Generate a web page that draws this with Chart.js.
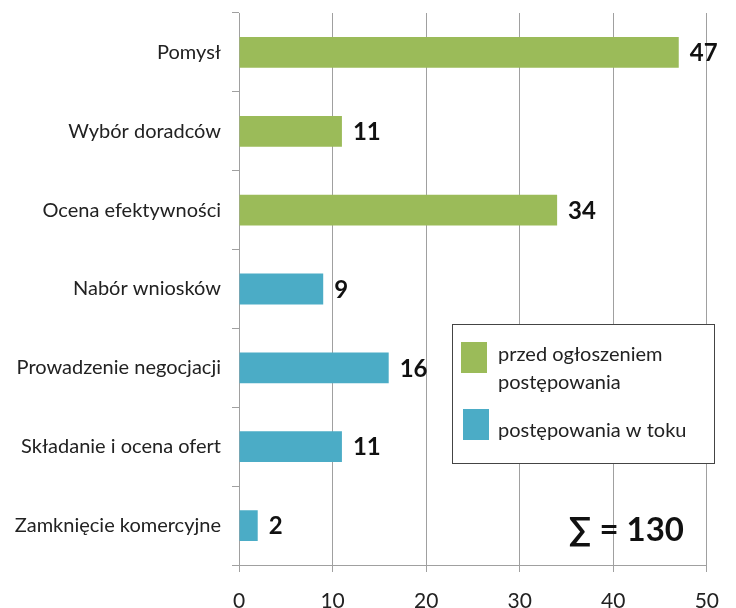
<!DOCTYPE html>
<html lang="pl">
<head>
    <meta charset="UTF-8">
    <title>Etapy postępowań</title>
    <style>
        body {
            margin: 0;
            padding: 0;
            background-color: #fff;
        }
        .wrap {
            width: 736px;
            height: 608px;
        }
    </style>
    <script src="https://cdn.jsdelivr.net/npm/chart.js"></script>
</head>
<body>
    <div class="wrap">
        <canvas id="chart" width="736" height="608"></canvas>
    </div>
    <script>
        const categories = ['Pomysł', 'Wybór doradców', 'Ocena efektywności', 'Nabór wniosków',
            'Prowadzenie negocjacji', 'Składanie i ocena ofert', 'Zamknięcie komercyjne'];
        const seriesNames = ['przed ogłoszeniem postępowania', 'postępowania w toku'];
        const beforeValues = [47, 11, 34, null, null, null, null];
        const ongoingValues = [null, null, null, 9, 16, 11, 2];
        const xTicks = [0, 10, 20, 30, 40, 50];

        const GREEN = '#9bbb59';
        const BLUE = '#4bacc6';
        const GRID = '#a0a0a0';
        const FONT = 'Lato, "Open Sans", sans-serif';

        // value labels to the right of each bar
        const valueLabels = {
            id: 'valueLabels',
            afterDatasetsDraw(chart) {
                const ctx = chart.ctx;
                ctx.save();
                ctx.font = 'bold 24px ' + FONT;
                ctx.fillStyle = '#111';
                ctx.textBaseline = 'middle';
                chart.data.datasets.forEach((ds, i) => {
                    chart.getDatasetMeta(i).data.forEach((bar, j) => {
                        if (ds.data[j] == null) return;
                        ctx.fillText(ds.data[j], bar.x + 11, bar.y + 1);
                    });
                });
                ctx.restore();
            }
        };

        // boxed legend inside the plot + sum text
        const boxLegend = {
            id: 'boxLegend',
            afterDraw(chart) {
                const ctx = chart.ctx;
                const ds = chart.data.datasets;
                ctx.save();
                ctx.fillStyle = '#fff';
                ctx.fillRect(452, 324, 263, 140);
                ctx.strokeStyle = '#444';
                ctx.lineWidth = 1;
                ctx.strokeRect(452.5, 324.5, 262, 139);

                ctx.fillStyle = ds[0].backgroundColor;
                ctx.fillRect(461, 342, 26, 31);
                ctx.fillStyle = ds[1].backgroundColor;
                ctx.fillRect(463, 409, 26, 31);

                ctx.font = '20px ' + FONT;
                ctx.fillStyle = '#222';
                ctx.textBaseline = 'alphabetic';
                ctx.fillText('przed ogłoszeniem', 498, 361);
                ctx.fillText('postępowania', 498, 389);
                ctx.fillText(ds[1].label, 498, 437);

                const total = [...beforeValues, ...ongoingValues].reduce((a, b) => a + (b || 0), 0);
                ctx.font = 'bold 33px ' + FONT;
                ctx.fillStyle = '#111';
                ctx.textAlign = 'right';
                ctx.fillText('∑ = ' + total, 684, 541);
                ctx.restore();
            }
        };

        new Chart(document.getElementById('chart'), {
            type: 'bar',
            data: {
                labels: categories,
                datasets: [{
                    label: seriesNames[0],
                    data: beforeValues,
                    backgroundColor: GREEN,
                    categoryPercentage: 1,
                    barPercentage: 0.39
                }, {
                    label: seriesNames[1],
                    data: ongoingValues,
                    backgroundColor: BLUE,
                    categoryPercentage: 1,
                    barPercentage: 0.39
                }]
            },
            options: {
                indexAxis: 'y',
                responsive: false,
                animation: false,
                layout: {
                    padding: { top: 13, right: 28, left: 0, bottom: 0 }
                },
                plugins: {
                    legend: { display: false },
                    tooltip: { enabled: false }
                },
                scales: {
                    x: {
                        stacked: true,
                        min: 0,
                        max: 50,
                        afterBuildTicks: s => { s.ticks = xTicks.map(v => ({ value: v })); },
                        afterFit: s => { s.height = 43; },
                        grid: { color: GRID, tickLength: 7 },
                        border: { color: GRID },
                        ticks: {
                            padding: 17,
                            color: '#222',
                            font: { family: FONT, size: 21 }
                        }
                    },
                    y: {
                        stacked: true,
                        afterFit: s => {
                            s.width = 239;
                            s.paddingTop = 0;
                            s.paddingBottom = 0;
                        },
                        grid: { color: GRID, drawOnChartArea: false, tickLength: 7 },
                        border: { color: GRID },
                        ticks: {
                            padding: 11,
                            color: '#222',
                            font: { family: FONT, size: 20 }
                        }
                    }
                }
            },
            plugins: [valueLabels, boxLegend]
        });
    </script>
</body>
</html>
